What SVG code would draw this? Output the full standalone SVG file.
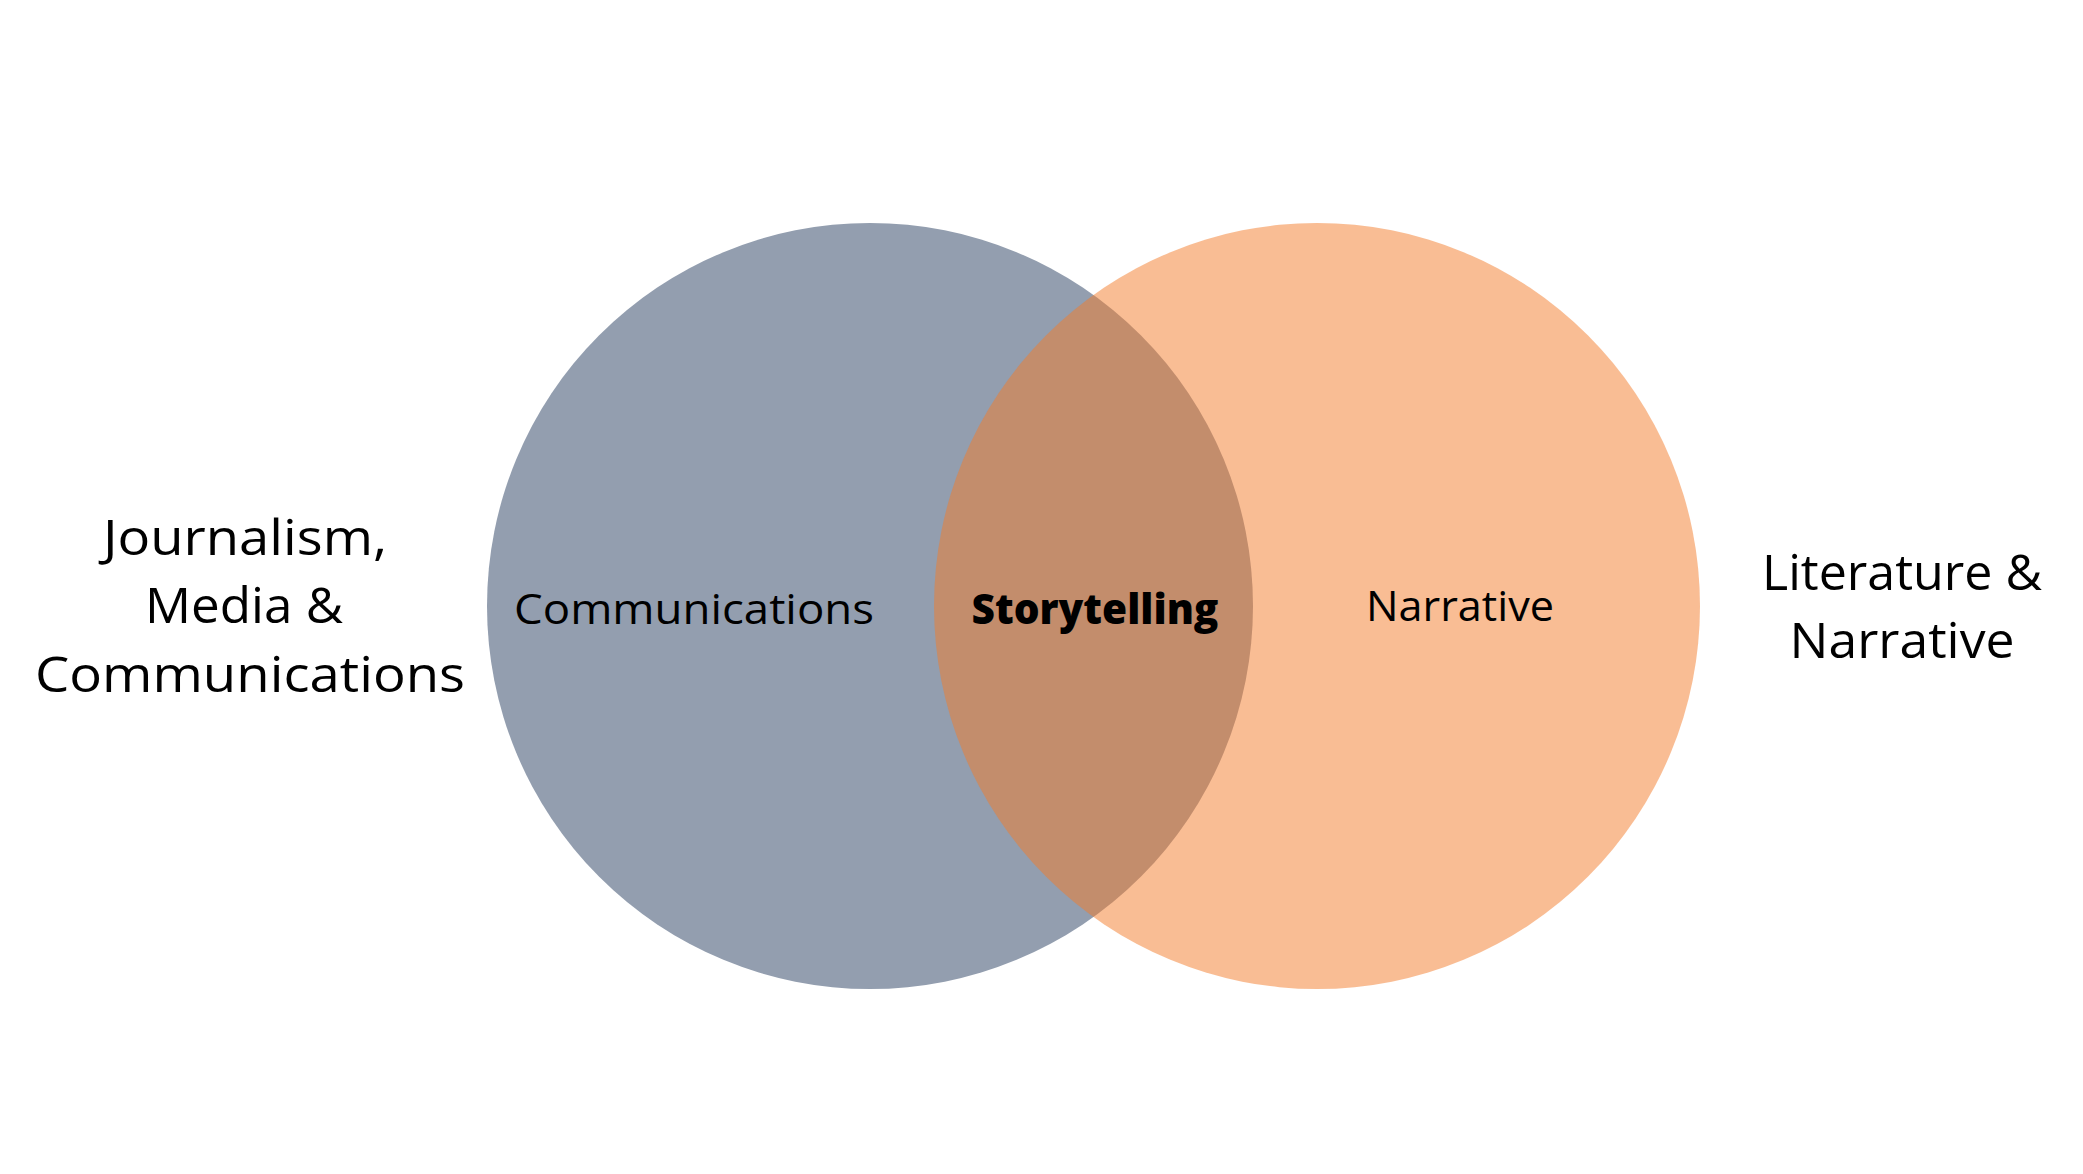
<svg xmlns="http://www.w3.org/2000/svg" width="2083" height="1174" viewBox="0 0 2083 1174">
  <style>
    text { font-family: "Open Sans", "Noto Sans", sans-serif; fill: #000; text-anchor: middle; }
    .outer { font-size: 50px; }
    .inner { font-size: 42px; }
    .bold { font-weight: 800; }
  </style>
  <rect width="2083" height="1174" fill="#ffffff"/>
  <g id="circle-communications">
    <circle cx="870" cy="606" r="383" fill="#939EAF"/>
  </g>
  <g id="circle-narrative">
    <circle cx="1317" cy="606" r="383" fill="#F37B29" fill-opacity="0.5"/>
  </g>
  <g id="connectors"></g>
  <g id="label-communications">
    <text class="inner" x="694" y="624" textLength="360" lengthAdjust="spacingAndGlyphs">Communications</text>
  </g>
  <g id="label-storytelling">
    <text class="inner bold" x="1095" y="624" textLength="247" lengthAdjust="spacingAndGlyphs">Storytelling</text>
  </g>
  <g id="label-narrative">
    <text class="inner" x="1460" y="621" textLength="188" lengthAdjust="spacingAndGlyphs">Narrative</text>
  </g>
  <g id="label-left">
    <text class="outer" x="245" y="555" textLength="284" lengthAdjust="spacingAndGlyphs">Journalism,</text>
    <text class="outer" x="244" y="623" textLength="198" lengthAdjust="spacingAndGlyphs">Media &amp;</text>
    <text class="outer" x="250" y="692" textLength="430" lengthAdjust="spacingAndGlyphs">Communications</text>
  </g>
  <g id="label-right">
    <text class="outer" x="1902" y="590" textLength="280" lengthAdjust="spacingAndGlyphs">Literature &amp;</text>
    <text class="outer" x="1902" y="658" textLength="225" lengthAdjust="spacingAndGlyphs">Narrative</text>
  </g>
</svg>
